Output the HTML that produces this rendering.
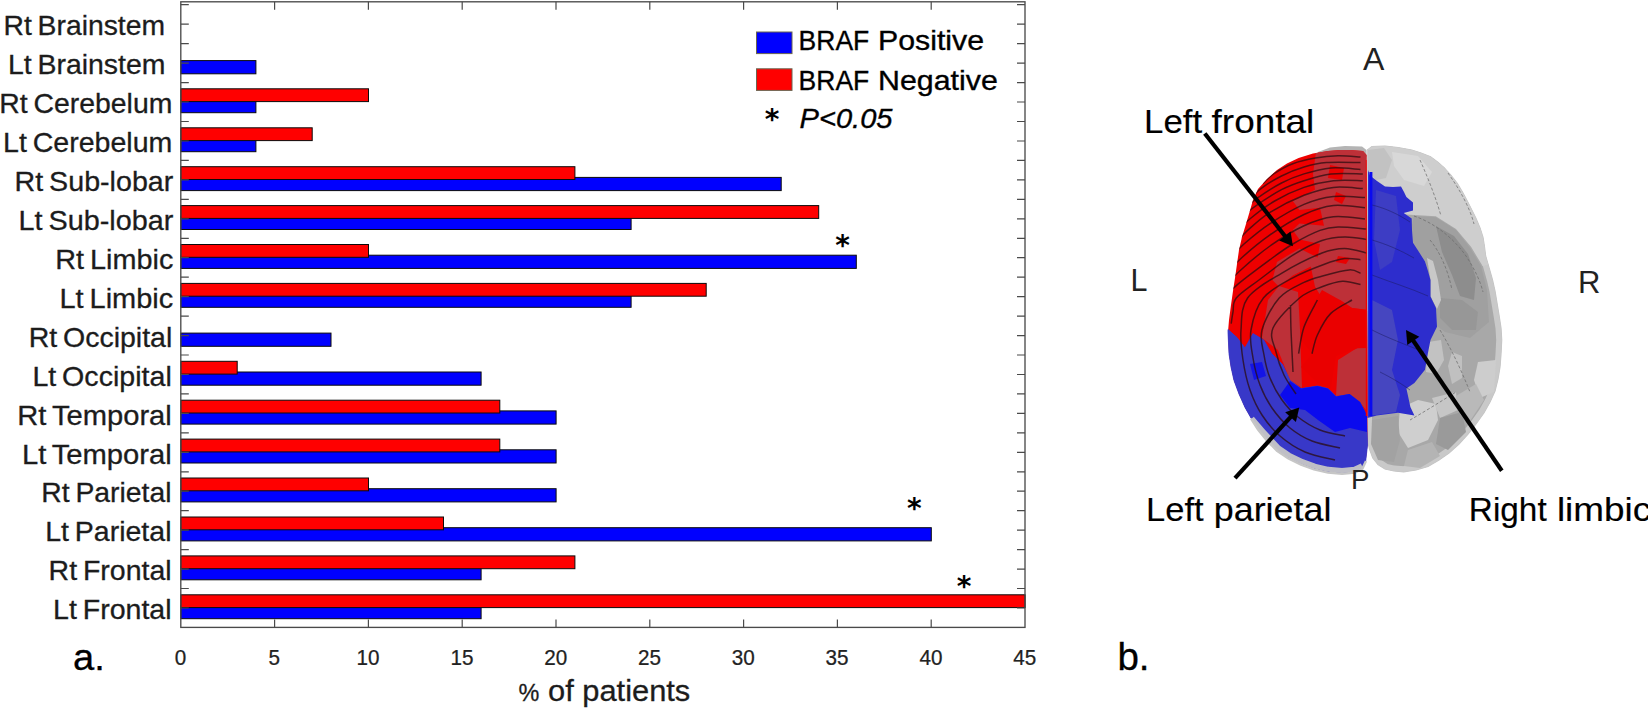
<!DOCTYPE html>
<html lang="en"><head><meta charset="utf-8"><title>BRAF status by tumour location</title>
<style>
html,body{margin:0;padding:0;background:#fff;}
body{width:1648px;height:708px;overflow:hidden;}
svg{display:block;}
text{font-family:"Liberation Sans",sans-serif;fill:#1a1a1a;}
.tk{font-size:22.6px;fill:#222;stroke:#222;stroke-width:.25px;}
.yl{font-size:27.5px;fill:#1c1c1c;stroke:#1c1c1c;stroke-width:.3px;word-spacing:-2px;}
.xl{font-size:30px;fill:#1c1c1c;stroke:#1c1c1c;stroke-width:.3px;}
.lg{font-size:28.1px;fill:#000;stroke:#000;stroke-width:.35px;}
.as{font-family:"DejaVu Sans","Liberation Sans",sans-serif;font-size:28px;fill:#000;font-weight:bold;}
.pl{font-size:38.5px;fill:#000;stroke:#000;stroke-width:.3px;}
.an{font-size:33px;fill:#000;stroke:#000;stroke-width:.15px;}
.or{font-size:30.5px;fill:#222;}
</style></head>
<body>
<svg width="1648" height="708" viewBox="0 0 1648 708">
<rect width="1648" height="708" fill="#fff"/>
<g id="chart">
<rect x="180.8" y="60.6" width="75.1" height="13.2" fill="#0000ff" stroke="#0a0a0a" stroke-width="1"/>
<rect x="180.8" y="99.5" width="75.1" height="13.2" fill="#0000ff" stroke="#0a0a0a" stroke-width="1"/>
<rect x="180.8" y="88.8" width="187.7" height="12.8" fill="#ff0000" stroke="#0a0a0a" stroke-width="1"/>
<rect x="180.8" y="138.5" width="75.1" height="13.2" fill="#0000ff" stroke="#0a0a0a" stroke-width="1"/>
<rect x="180.8" y="127.8" width="131.4" height="12.8" fill="#ff0000" stroke="#0a0a0a" stroke-width="1"/>
<rect x="180.8" y="177.4" width="600.4" height="13.2" fill="#0000ff" stroke="#0a0a0a" stroke-width="1"/>
<rect x="180.8" y="166.7" width="394.1" height="12.8" fill="#ff0000" stroke="#0a0a0a" stroke-width="1"/>
<rect x="180.8" y="216.3" width="450.3" height="13.2" fill="#0000ff" stroke="#0a0a0a" stroke-width="1"/>
<rect x="180.8" y="205.6" width="637.9" height="12.8" fill="#ff0000" stroke="#0a0a0a" stroke-width="1"/>
<rect x="180.8" y="255.2" width="675.5" height="13.2" fill="#0000ff" stroke="#0a0a0a" stroke-width="1"/>
<rect x="180.8" y="244.5" width="187.7" height="12.8" fill="#ff0000" stroke="#0a0a0a" stroke-width="1"/>
<rect x="180.8" y="294.1" width="450.3" height="13.2" fill="#0000ff" stroke="#0a0a0a" stroke-width="1"/>
<rect x="180.8" y="283.4" width="525.4" height="12.8" fill="#ff0000" stroke="#0a0a0a" stroke-width="1"/>
<rect x="180.8" y="333.1" width="150.2" height="13.2" fill="#0000ff" stroke="#0a0a0a" stroke-width="1"/>
<rect x="180.8" y="372.0" width="300.3" height="13.2" fill="#0000ff" stroke="#0a0a0a" stroke-width="1"/>
<rect x="180.8" y="361.3" width="56.4" height="12.8" fill="#ff0000" stroke="#0a0a0a" stroke-width="1"/>
<rect x="180.8" y="410.9" width="375.3" height="13.2" fill="#0000ff" stroke="#0a0a0a" stroke-width="1"/>
<rect x="180.8" y="400.2" width="319.0" height="12.8" fill="#ff0000" stroke="#0a0a0a" stroke-width="1"/>
<rect x="180.8" y="449.8" width="375.3" height="13.2" fill="#0000ff" stroke="#0a0a0a" stroke-width="1"/>
<rect x="180.8" y="439.1" width="319.0" height="12.8" fill="#ff0000" stroke="#0a0a0a" stroke-width="1"/>
<rect x="180.8" y="488.7" width="375.3" height="13.2" fill="#0000ff" stroke="#0a0a0a" stroke-width="1"/>
<rect x="180.8" y="478.0" width="187.7" height="12.8" fill="#ff0000" stroke="#0a0a0a" stroke-width="1"/>
<rect x="180.8" y="527.7" width="750.5" height="13.2" fill="#0000ff" stroke="#0a0a0a" stroke-width="1"/>
<rect x="180.8" y="517.0" width="262.7" height="12.8" fill="#ff0000" stroke="#0a0a0a" stroke-width="1"/>
<rect x="180.8" y="566.6" width="300.3" height="13.2" fill="#0000ff" stroke="#0a0a0a" stroke-width="1"/>
<rect x="180.8" y="555.9" width="394.1" height="12.8" fill="#ff0000" stroke="#0a0a0a" stroke-width="1"/>
<rect x="180.8" y="605.5" width="300.3" height="13.2" fill="#0000ff" stroke="#0a0a0a" stroke-width="1"/>
<rect x="180.8" y="594.8" width="844.3" height="12.8" fill="#ff0000" stroke="#0a0a0a" stroke-width="1"/>
<rect x="180.8" y="1.8" width="844.2" height="625.6" fill="none" stroke="#4a4a4a" stroke-width="1.35"/>
<path d="M274.6 627.4v-8M274.6 1.8v8M368.4 627.4v-8M368.4 1.8v8M462.2 627.4v-8M462.2 1.8v8M556.0 627.4v-8M556.0 1.8v8M649.8 627.4v-8M649.8 1.8v8M743.6 627.4v-8M743.6 1.8v8M837.4 627.4v-8M837.4 1.8v8M931.2 627.4v-8M931.2 1.8v8M180.8 4.7h8M1025.0 4.7h-8M180.8 24.2h8M1025.0 24.2h-8M180.8 43.7h8M1025.0 43.7h-8M180.8 63.1h8M1025.0 63.1h-8M180.8 82.6h8M1025.0 82.6h-8M180.8 102.0h8M1025.0 102.0h-8M180.8 121.5h8M1025.0 121.5h-8M180.8 141.0h8M1025.0 141.0h-8M180.8 160.4h8M1025.0 160.4h-8M180.8 179.9h8M1025.0 179.9h-8M180.8 199.3h8M1025.0 199.3h-8M180.8 218.8h8M1025.0 218.8h-8M180.8 238.3h8M1025.0 238.3h-8M180.8 257.7h8M1025.0 257.7h-8M180.8 277.2h8M1025.0 277.2h-8M180.8 296.6h8M1025.0 296.6h-8M180.8 316.1h8M1025.0 316.1h-8M180.8 335.6h8M1025.0 335.6h-8M180.8 355.0h8M1025.0 355.0h-8M180.8 374.5h8M1025.0 374.5h-8M180.8 393.9h8M1025.0 393.9h-8M180.8 413.4h8M1025.0 413.4h-8M180.8 432.9h8M1025.0 432.9h-8M180.8 452.3h8M1025.0 452.3h-8M180.8 471.8h8M1025.0 471.8h-8M180.8 491.2h8M1025.0 491.2h-8M180.8 510.7h8M1025.0 510.7h-8M180.8 530.2h8M1025.0 530.2h-8M180.8 549.6h8M1025.0 549.6h-8M180.8 569.1h8M1025.0 569.1h-8M180.8 588.5h8M1025.0 588.5h-8M180.8 608.0h8M1025.0 608.0h-8" fill="none" stroke="#4a4a4a" stroke-width="1.2"/>
<text class="tk" transform="translate(180.5 664.6) scale(.915 1)" text-anchor="middle">0</text>
<text class="tk" transform="translate(274.3 664.6) scale(.915 1)" text-anchor="middle">5</text>
<text class="tk" transform="translate(368.1 664.6) scale(.915 1)" text-anchor="middle">10</text>
<text class="tk" transform="translate(461.9 664.6) scale(.915 1)" text-anchor="middle">15</text>
<text class="tk" transform="translate(555.7 664.6) scale(.915 1)" text-anchor="middle">20</text>
<text class="tk" transform="translate(649.5 664.6) scale(.915 1)" text-anchor="middle">25</text>
<text class="tk" transform="translate(743.3 664.6) scale(.915 1)" text-anchor="middle">30</text>
<text class="tk" transform="translate(837.1 664.6) scale(.915 1)" text-anchor="middle">35</text>
<text class="tk" transform="translate(930.9 664.6) scale(.915 1)" text-anchor="middle">40</text>
<text class="tk" transform="translate(1024.7 664.6) scale(.915 1)" text-anchor="middle">45</text>
<text class="yl" x="3.5" y="35.4" textLength="161.5" lengthAdjust="spacingAndGlyphs">Rt Brainstem</text>
<text class="yl" x="7.9" y="74.3" textLength="157.6" lengthAdjust="spacingAndGlyphs">Lt Brainstem</text>
<text class="yl" x="-0.7" y="113.2" textLength="173.0" lengthAdjust="spacingAndGlyphs">Rt Cerebelum</text>
<text class="yl" x="3.0" y="152.2" textLength="169.3" lengthAdjust="spacingAndGlyphs">Lt Cerebelum</text>
<text class="yl" x="14.6" y="191.1" textLength="158.7" lengthAdjust="spacingAndGlyphs">Rt Sub-lobar</text>
<text class="yl" x="18.6" y="230.0" textLength="154.7" lengthAdjust="spacingAndGlyphs">Lt Sub-lobar</text>
<text class="yl" x="55.3" y="268.9" textLength="118.0" lengthAdjust="spacingAndGlyphs">Rt Limbic</text>
<text class="yl" x="59.4" y="307.8" textLength="113.9" lengthAdjust="spacingAndGlyphs">Lt Limbic</text>
<text class="yl" x="28.7" y="346.8" textLength="143.6" lengthAdjust="spacingAndGlyphs">Rt Occipital</text>
<text class="yl" x="32.4" y="385.7" textLength="139.4" lengthAdjust="spacingAndGlyphs">Lt Occipital</text>
<text class="yl" x="17.3" y="424.6" textLength="154.5" lengthAdjust="spacingAndGlyphs">Rt Temporal</text>
<text class="yl" x="21.9" y="463.5" textLength="149.9" lengthAdjust="spacingAndGlyphs">Lt Temporal</text>
<text class="yl" x="41.3" y="502.4" textLength="130.2" lengthAdjust="spacingAndGlyphs">Rt Parietal</text>
<text class="yl" x="45.2" y="541.4" textLength="126.3" lengthAdjust="spacingAndGlyphs">Lt Parietal</text>
<text class="yl" x="48.6" y="580.3" textLength="123.0" lengthAdjust="spacingAndGlyphs">Rt Frontal</text>
<text class="yl" x="53.1" y="619.2" textLength="118.5" lengthAdjust="spacingAndGlyphs">Lt Frontal</text>
<text class="xl" x="518.4" y="700.6" style="font-size:23.4px">%</text>
<text class="xl" x="548.0" y="700.6" textLength="142.3" lengthAdjust="spacingAndGlyphs">of patients</text>
<rect x="756.5" y="32" width="35.5" height="21.6" fill="#0000ff" stroke="#6b6450" stroke-width="1"/>
<rect x="756.5" y="68.8" width="35.5" height="21.6" fill="#ff0000" stroke="#6b6450" stroke-width="1"/>
<text class="lg" x="798.6" y="50.4" textLength="70.7" lengthAdjust="spacingAndGlyphs">BRAF</text>
<text class="lg" x="878.0" y="50.4" textLength="106.1" lengthAdjust="spacingAndGlyphs">Positive</text>
<text class="lg" x="798.6" y="90.3" textLength="70.7" lengthAdjust="spacingAndGlyphs">BRAF</text>
<text class="lg" x="878.0" y="90.3" textLength="119.8" lengthAdjust="spacingAndGlyphs">Negative</text>
<text class="lg" x="799.5" y="127.6" font-style="italic" textLength="93" lengthAdjust="spacingAndGlyphs">P&lt;0.05</text>
<text class="as" x="772.2" y="129.2" text-anchor="middle">*</text>
<text class="as" x="842.6" y="254.5" text-anchor="middle">*</text>
<text class="as" x="914.3" y="517.8" text-anchor="middle">*</text>
<text class="as" x="964.2" y="595.9" text-anchor="middle">*</text>
<text class="pl" x="73" y="669.6" style="font-size:36.5px" textLength="31.8" lengthAdjust="spacingAndGlyphs">a.</text>
</g>
<g id="brain">
<defs><clipPath id="clh"><path d="M1366.5 155.0 L1363.0 151.0 L1350.0 150.0 L1340.0 150.0 L1328.0 151.0 L1313.0 153.5 L1298.6 158.0 L1287.0 163.5 L1277.0 170.0 L1267.0 179.0 L1258.0 189.0 L1253.0 200.0 L1250.0 210.5 L1246.0 224.0 L1242.0 237.0 L1239.0 250.0 L1237.0 264.0 L1235.0 278.0 L1233.0 291.0 L1231.0 305.0 L1229.0 320.0 L1228.0 332.0 L1228.5 343.0 L1229.0 353.7 L1231.0 367.0 L1234.0 380.5 L1239.0 394.0 L1245.0 407.4 L1251.0 418.0 L1258.0 428.9 L1267.0 440.0 L1277.0 450.0 L1288.0 457.5 L1301.0 463.8 L1314.0 468.5 L1328.0 471.8 L1342.0 473.0 L1355.0 471.8 L1362.0 468.0 L1365.7 461.0 L1367.5 445.0Z"/></clipPath><clipPath id="crh"><path d="M1367.4 150.0 L1372.0 146.5 L1385.0 146.0 L1398.0 147.5 L1411.7 150.0 L1421.0 153.0 L1430.5 156.8 L1437.5 162.0 L1444.0 167.6 L1451.0 175.5 L1457.4 183.7 L1463.0 193.0 L1468.0 202.5 L1472.0 210.5 L1476.0 218.6 L1480.0 228.0 L1483.0 237.4 L1484.5 247.0 L1485.6 256.0 L1489.6 269.6 L1492.5 280.0 L1495.0 291.0 L1497.0 303.0 L1499.0 315.0 L1501.0 328.0 L1501.7 340.0 L1501.0 354.0 L1500.0 367.0 L1498.0 379.0 L1495.0 391.0 L1490.0 402.0 L1484.0 412.7 L1476.0 424.0 L1468.0 434.0 L1459.0 444.0 L1449.0 453.0 L1439.0 460.0 L1428.0 466.4 L1416.0 470.0 L1403.7 471.8 L1394.0 471.0 L1385.0 469.0 L1378.0 464.5 L1372.8 458.0 L1369.5 449.0 L1367.4 439.6 L1366.5 418.0Z"/></clipPath></defs>
<path d="M1367.4 150.0 L1372.0 146.5 L1385.0 146.0 L1398.0 147.5 L1411.7 150.0 L1421.0 153.0 L1430.5 156.8 L1437.5 162.0 L1444.0 167.6 L1451.0 175.5 L1457.4 183.7 L1463.0 193.0 L1468.0 202.5 L1472.0 210.5 L1476.0 218.6 L1480.0 228.0 L1483.0 237.4 L1484.5 247.0 L1485.6 256.0 L1489.6 269.6 L1492.5 280.0 L1495.0 291.0 L1497.0 303.0 L1499.0 315.0 L1501.0 328.0 L1501.7 340.0 L1501.0 354.0 L1500.0 367.0 L1498.0 379.0 L1495.0 391.0 L1490.0 402.0 L1484.0 412.7 L1476.0 424.0 L1468.0 434.0 L1459.0 444.0 L1449.0 453.0 L1439.0 460.0 L1428.0 466.4 L1416.0 470.0 L1403.7 471.8 L1394.0 471.0 L1385.0 469.0 L1378.0 464.5 L1372.8 458.0 L1369.5 449.0 L1367.4 439.6 L1366.5 418.0Z" fill="#a8a8a8" stroke="#c4c4c4" stroke-width="1.2"/>
<g clip-path="url(#crh)">
<path d="M1367.4 150.0 L1372.0 146.5 L1385.0 146.0 L1398.0 147.5 L1411.7 150.0 L1421.0 153.0 L1430.5 156.8 L1437.5 162.0 L1444.0 167.6 L1451.0 175.5 L1457.4 183.7 L1463.0 193.0 L1468.0 202.5 L1472.0 210.5 L1476.0 218.6 L1480.0 228.0 L1483.0 237.4 L1484.5 247.0 L1485.6 256.0 L1489.6 269.6 L1492.5 280.0 L1495.0 291.0 L1497.0 303.0 L1499.0 315.0 L1501.0 328.0 L1501.7 340.0 L1501.0 354.0 L1500.0 367.0 L1498.0 379.0 L1495.0 391.0 L1490.0 402.0 L1484.0 412.7 L1476.0 424.0 L1468.0 434.0 L1459.0 444.0 L1449.0 453.0 L1439.0 460.0 L1428.0 466.4 L1416.0 470.0 L1403.7 471.8 L1394.0 471.0 L1385.0 469.0 L1378.0 464.5 L1372.8 458.0 L1369.5 449.0 L1367.4 439.6 L1366.5 418.0Z" fill="none" stroke="#c9c9c9" stroke-width="11" stroke-linejoin="round"/>
<path d="M1366.0 140.0 L1500.0 140.0 L1500.0 262.0 L1482.6 266.0 L1471.0 246.8 L1456.0 229.0 L1435.8 216.3 L1414.0 215.0 L1400.0 214.0 L1366.0 200.0Z" fill="#cecece"/>
<path d="M1368.0 150.0 L1384.0 148.0 L1392.0 160.0 L1386.0 178.0 L1376.0 180.0 L1368.0 172.0Z" fill="#c2c2c2"/>
<path d="M1392.0 152.0 L1418.0 156.0 L1432.0 172.0 L1424.0 186.0 L1404.0 180.0 L1394.0 166.0Z" fill="#d8d8d8"/>
<path d="M1414.0 216.0 L1435.8 217.3 L1456.0 230.0 L1470.0 247.8 L1481.0 266.0 L1487.0 290.0 L1489.0 322.0 L1470.0 338.0 L1445.0 332.0 L1437.0 326.0 L1436.0 308.0 L1430.5 296.0 L1430.5 280.0 L1425.0 261.0 L1413.0 243.0 L1412.0 225.0Z" fill="#a0a0a0"/>
<path d="M1436.0 226.0 L1454.0 236.0 L1468.0 254.0 L1476.0 278.0 L1474.0 300.0 L1460.0 296.0 L1452.0 275.0 L1442.0 252.0Z" fill="#8d8d8d"/>
<path d="M1440.0 298.0 L1462.0 300.0 L1478.0 312.0 L1476.0 330.0 L1452.0 330.0 L1440.0 318.0Z" fill="#979797"/>
<path d="M1427.0 258.0 L1433.0 261.0 L1438.0 280.0 L1441.0 300.0 L1437.0 309.0 L1430.5 296.0 L1430.5 280.0Z" fill="#c8c8c8"/>
<path d="M1428.0 342.0 L1441.0 340.0 L1444.0 360.0 L1436.0 374.0 L1426.0 372.0Z" fill="#c2c2c2"/>
<path d="M1452.0 352.0 L1462.0 356.0 L1462.0 378.0 L1452.0 384.0 L1448.0 366.0Z" fill="#c0c0c0"/>
<path d="M1478.0 362.0 L1496.0 360.0 L1494.0 392.0 L1480.0 398.0 L1474.0 380.0Z" fill="#cdcdcd"/>
<path d="M1400.0 408.0 L1418.0 400.0 L1436.0 404.0 L1438.0 420.0 L1428.0 440.0 L1408.0 448.0 L1398.0 432.0Z" fill="#cfcfcf"/>
<path d="M1432.0 398.0 L1456.0 392.0 L1458.0 410.0 L1440.0 418.0Z" fill="#c6c6c6"/>
<path d="M1372.0 420.0 L1398.0 416.0 L1400.0 440.0 L1394.0 462.0 L1378.0 460.0 L1371.0 444.0Z" fill="#a2a2a2"/>
<path d="M1440.0 418.0 L1462.0 412.0 L1466.0 432.0 L1448.0 450.0 L1436.0 444.0Z" fill="#9a9a9a"/>
<path d="M1408.0 450.0 L1432.0 442.0 L1440.0 456.0 L1420.0 468.0 L1404.0 466.0Z" fill="#b4b4b4"/>
<path d="M1456.0 396.0 L1476.0 384.0 L1484.0 400.0 L1468.0 424.0 L1460.0 414.0Z" fill="#b9b9b9"/>
<path d="M1420 160C1428 178 1436 198 1441 216M1448 173C1460 190 1470 208 1474 224M1414 216C1432 222 1452 236 1466 256C1474 268 1480 280 1483 292M1430 240C1440 252 1448 270 1452 290M1440 330C1452 350 1462 372 1470 392M1410 420C1424 412 1440 402 1456 392" fill="none" stroke="#6e6e6e" stroke-width="1" stroke-dasharray="3 2" opacity=".75"/>
<path d="M1368.0 170.0 L1370.0 175.6 L1377.0 181.0 L1385.0 186.4 L1393.0 187.0 L1401.0 186.4 L1404.0 192.0 L1406.4 197.0 L1413.0 202.5 L1413.0 210.5 L1403.7 213.0 L1411.7 218.6 L1412.0 230.0 L1413.0 242.8 L1419.0 252.0 L1425.0 261.5 L1428.0 271.0 L1430.5 280.0 L1430.5 296.4 L1436.0 308.0 L1437.0 326.8 L1430.5 340.0 L1427.8 353.7 L1425.0 369.8 L1414.4 383.0 L1406.4 388.6 L1410.4 407.0 L1414.4 415.4 L1398.0 412.7 L1376.8 415.4 L1367.4 418.0Z" fill="#2d2dcd"/>
<path d="M1372.0 300.0 L1392.0 310.0 L1398.0 340.0 L1392.0 370.0 L1400.0 395.0 L1396.0 412.0 L1376.0 415.0 L1372.0 415.0Z" fill="#4646c0"/>
<path d="M1376.0 190.0 L1396.0 196.0 L1400.0 230.0 L1392.0 262.0 L1380.0 270.0 L1374.0 240.0Z" fill="#3d3dc4"/>
<path d="M1372 205C1385 208 1398 214 1410 222M1372 240C1386 244 1400 250 1414 258M1372 275C1390 282 1410 288 1428 296M1372 330C1388 338 1404 344 1424 352M1380 372C1392 378 1402 384 1410 390" fill="none" stroke="#1c1c60" stroke-width="1" opacity=".5"/>
<rect x="1369.4" y="172" width="3" height="244" fill="#0a0af0"/>
</g>
<path d="M1318 152L1330 147.5L1345 146L1362 146.5L1366.5 150L1366.5 157L1318 157Z" fill="#b4b4b4"/>
<path d="M1366.5 155.0 L1363.0 151.0 L1350.0 150.0 L1340.0 150.0 L1328.0 151.0 L1313.0 153.5 L1298.6 158.0 L1287.0 163.5 L1277.0 170.0 L1267.0 179.0 L1258.0 189.0 L1253.0 200.0 L1250.0 210.5 L1246.0 224.0 L1242.0 237.0 L1239.0 250.0 L1237.0 264.0 L1235.0 278.0 L1233.0 291.0 L1231.0 305.0 L1229.0 320.0 L1228.0 332.0 L1228.5 343.0 L1229.0 353.7 L1231.0 367.0 L1234.0 380.5 L1239.0 394.0 L1245.0 407.4 L1251.0 418.0 L1258.0 428.9 L1267.0 440.0 L1277.0 450.0 L1288.0 457.5 L1301.0 463.8 L1314.0 468.5 L1328.0 471.8 L1342.0 473.0 L1355.0 471.8 L1362.0 468.0 L1365.7 461.0 L1367.5 445.0Z" fill="#ee0000"/>
<path d="M1228.0 329.5 L1237.0 337.6 L1245.0 348.0 L1253.0 333.6 L1263.7 340.0 L1271.7 353.7 L1282.5 364.4 L1290.5 380.5 L1301.0 388.6 L1317.4 386.0 L1328.0 388.6 L1336.0 396.6 L1349.6 394.0 L1360.0 402.0 L1366.5 415.4 L1367.5 445.0 L1365.7 461.0 L1362.0 468.0 L1355.0 471.8 L1342.0 473.0 L1328.0 471.8 L1314.0 468.5 L1301.0 463.8 L1288.0 457.5 L1277.0 450.0 L1267.0 440.0 L1258.0 428.9 L1251.0 418.0 L1245.0 407.4 L1239.0 394.0 L1234.0 380.5 L1231.0 367.0 L1229.0 353.7 L1228.5 343.0 L1228.0 332.0Z" fill="#3838c8" stroke="#3838c8" stroke-width=".8"/>
<g clip-path="url(#clh)">
<path d="M1317.6 140.0 L1369.0 140.0 L1369.0 310.0 L1352.0 308.0 L1340.0 300.0 L1322.0 298.0 L1315.0 286.8 L1310.8 266.5 L1292.8 275.5 L1279.0 286.8 L1272.4 280.0 L1277.0 262.0 L1299.5 248.4 L1317.6 257.5 L1320.0 244.0 L1299.5 239.4 L1292.8 230.0 L1299.5 223.6 L1324.0 225.8 L1320.0 207.8 L1299.5 210.0 L1292.8 201.0 L1315.0 189.7 L1313.0 174.0Z" fill="#bd3038"/>
<path d="M1279.0 286.0 L1298.0 292.0 L1300.0 330.0 L1302.0 388.0 L1290.0 380.0 L1278.0 350.0 L1262.0 338.0 L1268.0 300.0Z" fill="#bd3038"/>
<path d="M1357.0 348.0 L1369.0 348.0 L1369.0 414.0 L1360.0 402.0 L1349.0 394.0 L1336.0 396.0 L1338.0 360.0Z" fill="#bd3038"/>
<path d="M1330.0 165.0 L1344.0 168.0 L1342.0 180.0 L1328.0 178.0Z" fill="#ea0000"/>
<path d="M1336.0 192.0 L1346.0 196.0 L1342.0 204.0 L1334.0 200.0Z" fill="#ea0000"/>
<path d="M1338.0 256.0 L1350.0 258.0 L1346.0 264.0 L1336.0 262.0Z" fill="#ea0000"/>
<path d="M1322.0 290.0 L1340.0 300.0 L1352.0 308.0 L1369.0 310.0 L1369.0 348.0 L1357.7 348.3 L1336.0 356.0 L1330.8 388.6 L1317.4 383.0 L1301.0 367.0 L1312.0 353.7 L1301.0 340.0 L1300.0 326.0Z" fill="#ea0000"/>
<path d="M1228.0 329.5 L1237.0 337.6 L1245.0 348.0 L1253.0 333.6 L1263.7 340.0 L1271.7 353.7 L1282.5 364.4 L1290.5 380.5 L1301.0 388.6 L1317.4 386.0 L1328.0 388.6 L1336.0 396.6 L1349.6 394.0 L1360.0 402.0 L1366.5 415.4 L1367.5 445.0 L1365.7 461.0 L1362.0 468.0 L1355.0 471.8 L1342.0 473.0 L1328.0 471.8 L1314.0 468.5 L1301.0 463.8 L1288.0 457.5 L1277.0 450.0 L1267.0 440.0 L1258.0 428.9 L1251.0 418.0 L1245.0 407.4 L1239.0 394.0 L1234.0 380.5 L1231.0 367.0 L1229.0 353.7 L1228.5 343.0 L1228.0 332.0Z" fill="#3838c8"/>
<path d="M1301.0 388.6 L1317.4 386.0 L1328.0 388.6 L1336.0 396.6 L1349.6 394.0 L1360.0 402.0 L1367.0 415.0 L1367.0 432.0 L1350.0 428.0 L1335.0 432.0 L1318.0 420.0 L1305.0 410.0 L1290.0 408.0 L1280.0 395.0 L1290.0 381.0Z" fill="#0b0bee"/>
<path d="M1250.0 364.0 L1262.0 362.0 L1266.0 376.0 L1254.0 380.0Z" fill="#1414e6"/>
<path d="M1263.0 183.5C1264.8 181.9 1268.6 177.2 1273.6 173.9C1278.6 170.6 1285.8 166.3 1292.8 163.7C1299.8 161.0 1307.9 159.3 1315.4 158.0C1322.9 156.7 1330.5 156.0 1338.0 155.8C1345.5 155.6 1356.8 156.8 1360.5 157.0M1249.7 199.5C1251.6 197.7 1255.7 192.5 1261.0 188.6C1266.3 184.7 1274.3 179.6 1281.5 176.0C1288.7 172.4 1296.5 169.2 1304.0 167.0C1311.5 164.8 1317.2 163.3 1326.6 162.6C1336.0 161.9 1354.8 162.6 1360.5 162.6M1242.9 211.3C1245.2 209.2 1250.2 203.4 1256.6 198.7C1263.0 194.0 1273.6 187.1 1281.5 183.0C1289.4 178.9 1295.8 176.4 1304.0 173.9C1312.2 171.4 1321.6 168.8 1331.0 168.0C1340.4 167.2 1355.6 169.2 1360.5 169.4M1237.3 221.8C1239.9 219.4 1245.6 213.1 1253.0 207.8C1260.4 202.5 1273.0 194.2 1281.5 189.7C1290.0 185.2 1295.8 183.3 1304.0 180.7C1312.2 178.1 1321.2 175.0 1331.0 173.9C1340.8 172.8 1357.5 173.9 1362.8 173.9M1236.1 232.9C1238.4 230.6 1243.4 224.3 1249.8 219.0C1256.2 213.7 1265.7 206.3 1274.7 201.0C1283.7 195.7 1294.2 190.8 1304.0 187.4C1313.8 184.0 1323.6 181.8 1333.4 180.7C1343.2 179.6 1357.9 180.7 1362.8 180.7M1235.3 244.4C1237.3 242.0 1241.8 235.7 1247.6 230.4C1253.4 225.1 1260.6 218.2 1270.0 212.3C1279.4 206.5 1293.4 199.5 1304.0 195.3C1314.6 191.2 1323.6 188.5 1333.4 187.4C1343.2 186.3 1357.9 188.4 1362.8 188.6M1229.7 259.2C1232.1 256.7 1237.3 249.9 1244.0 244.0C1250.7 238.1 1260.0 230.2 1270.0 223.6C1280.0 217.0 1293.4 208.9 1304.0 204.4C1314.6 199.9 1323.2 197.6 1333.4 196.5C1343.6 195.4 1359.7 197.4 1365.0 197.6M1226.6 273.9C1229.2 271.2 1234.8 264.0 1242.0 257.5C1249.2 251.0 1259.7 242.1 1270.0 234.9C1280.3 227.7 1293.4 219.4 1304.0 214.5C1314.6 209.6 1323.2 206.6 1333.4 205.5C1343.6 204.4 1359.7 207.4 1365.0 207.8M1223.0 288.8C1225.8 285.8 1231.9 278.1 1239.7 271.0C1247.5 263.9 1259.3 253.5 1270.0 246.0C1280.7 238.5 1293.4 230.7 1304.0 225.8C1314.6 220.9 1323.2 217.9 1333.4 216.8C1343.6 215.7 1359.7 218.6 1365.0 219.0M1219.5 302.3C1222.5 299.3 1229.0 291.7 1237.4 284.6C1245.8 277.5 1260.8 266.5 1270.0 259.7C1279.2 252.9 1284.5 248.9 1292.8 244.0C1301.1 239.1 1312.5 233.2 1320.0 230.4C1327.5 227.6 1330.2 227.2 1338.0 227.0C1345.8 226.8 1362.2 228.7 1367.0 229.0M1231.2 323.7C1231.5 321.8 1232.1 316.3 1233.0 312.0C1233.9 307.7 1232.0 303.3 1236.3 298.0C1240.6 292.7 1249.6 287.1 1259.0 280.0C1268.4 272.9 1282.3 261.8 1292.8 255.2C1303.3 248.6 1313.3 243.5 1322.0 240.5C1330.7 237.5 1337.2 237.2 1344.7 237.0C1352.2 236.8 1363.3 239.0 1367.0 239.4M1335.0 460.0C1330.0 458.7 1314.2 456.0 1305.0 452.0C1295.8 448.0 1287.2 442.2 1280.0 436.0C1272.8 429.8 1267.0 422.7 1262.0 415.0C1257.0 407.3 1253.2 399.2 1250.0 390.0C1246.8 380.8 1244.5 370.0 1243.0 360.0C1241.5 350.0 1240.2 340.3 1241.0 330.0C1241.8 319.7 1240.8 307.4 1247.6 298.0C1254.3 288.6 1269.1 280.8 1281.5 273.3C1293.9 265.8 1311.5 257.1 1322.0 253.0C1332.5 248.8 1337.2 248.4 1344.7 248.4C1352.2 248.4 1363.3 252.2 1367.0 253.0M1340.0 448.0C1335.3 446.8 1320.3 444.3 1312.0 441.0C1303.7 437.7 1296.7 433.5 1290.0 428.0C1283.3 422.5 1277.0 415.2 1272.0 408.0C1267.0 400.8 1263.2 393.3 1260.0 385.0C1256.8 376.7 1254.5 367.2 1253.0 358.0C1251.5 348.8 1249.3 340.0 1251.0 330.0C1252.7 320.0 1256.4 306.7 1263.4 298.0C1270.4 289.3 1282.6 283.4 1292.8 277.8C1303.0 272.2 1315.8 267.4 1324.4 264.2C1333.1 261.0 1338.7 259.4 1344.7 258.6C1350.7 257.9 1357.9 259.5 1360.5 259.7M1345.0 436.0C1340.8 435.0 1327.8 433.2 1320.0 430.0C1312.2 426.8 1304.3 422.0 1298.0 417.0C1291.7 412.0 1286.7 406.5 1282.0 400.0C1277.3 393.5 1273.0 385.5 1270.0 378.0C1267.0 370.5 1265.3 363.0 1264.0 355.0C1262.7 347.0 1259.5 339.5 1262.0 330.0C1264.5 320.5 1272.2 305.9 1279.2 298.0C1286.2 290.1 1296.5 286.1 1304.0 282.3C1311.5 278.6 1316.9 277.6 1324.4 275.5C1331.9 273.4 1343.2 270.3 1349.2 269.9C1355.2 269.5 1358.6 272.7 1360.5 273.3M1296.0 394.0C1294.0 390.8 1287.3 382.0 1284.0 375.0C1280.7 368.0 1277.8 359.8 1276.0 352.0C1274.2 344.2 1269.1 337.0 1273.0 328.0C1276.9 319.0 1291.3 304.9 1299.5 298.0C1307.7 291.1 1314.8 289.6 1322.0 286.8C1329.2 284.0 1336.1 281.6 1342.5 281.2C1348.9 280.8 1357.5 284.0 1360.5 284.6M1293.0 372.0C1292.7 365.0 1291.4 341.2 1291.0 330.0C1290.6 318.8 1290.6 309.2 1290.5 305.0M1298.6 353.7C1299.5 349.2 1300.9 335.9 1304.0 327.0C1307.1 318.1 1315.2 304.5 1317.4 300.0M1312.0 353.7C1312.9 350.6 1314.3 341.7 1317.4 335.0C1320.5 328.3 1325.0 319.2 1330.8 313.4C1336.6 307.6 1348.5 302.2 1352.0 300.0" fill="none" stroke="#2a0c10" stroke-width="1.5" opacity=".74"/>
<path d="M1250.0 420.0 L1262.0 434.0 L1277.0 450.0 L1288.0 457.5 L1301.0 463.8 L1314.0 468.5 L1328.0 471.8 L1342.0 473.0 L1355.0 471.8 L1363.0 468.0" fill="none" stroke="#c6c6c6" stroke-width="10" opacity=".95"/>
<rect x="1365.8" y="160" width="3" height="256" fill="#f40000"/>
</g>
<path d="M1251.0 418.6 L1258.0 429.5 L1267.0 440.6 L1277.0 450.8 L1288.0 458.3 L1301.0 464.6 L1314.0 469.3 L1328.0 472.6 L1342.0 473.8 L1355.0 472.6 L1362.4 468.6 L1366.0 461.0" fill="none" stroke="#c6c6c6" stroke-width="2.4"/>
<text class="or" x="1373.6" y="69.5" text-anchor="middle" style="font-size:32px">A</text>
<text class="or" x="1130.4" y="291">L</text>
<text class="or" x="1578" y="293" style="font-size:31px">R</text>
<text class="or" x="1351" y="489" style="font-size:27.6px">P</text>
<text class="an" x="1144.1" y="132.6" textLength="58.1" lengthAdjust="spacingAndGlyphs">Left</text>
<text class="an" x="1211.6" y="132.6" textLength="102.7" lengthAdjust="spacingAndGlyphs">frontal</text>
<text class="an" x="1146.0" y="521.0" textLength="57.6" lengthAdjust="spacingAndGlyphs">Left</text>
<text class="an" x="1213.8" y="521.0" textLength="117.6" lengthAdjust="spacingAndGlyphs">parietal</text>
<text class="an" x="1468.8" y="521.2" textLength="77.9" lengthAdjust="spacingAndGlyphs">Right</text>
<text class="an" x="1556.9" y="521.2" textLength="94.3" lengthAdjust="spacingAndGlyphs">limbic</text>
<text class="pl" x="1117.4" y="669.9">b.</text>
<path d="M1204.8 133.5L1285.5 236.7" stroke="#000" stroke-width="4.2" fill="none"/><path d="M1292.9 246.2L1279.2 240.4L1290.6 231.5Z" fill="#000"/>
<path d="M1235.0 478.2L1291.2 416.4" stroke="#000" stroke-width="4.2" fill="none"/><path d="M1299.3 407.5L1295.9 422.0L1285.2 412.2Z" fill="#000"/>
<path d="M1501.8 470.8L1412.8 340.0" stroke="#000" stroke-width="4.2" fill="none"/><path d="M1406.0 330.1L1419.3 336.8L1407.3 344.9Z" fill="#000"/>
</g>
</svg>
</body></html>
